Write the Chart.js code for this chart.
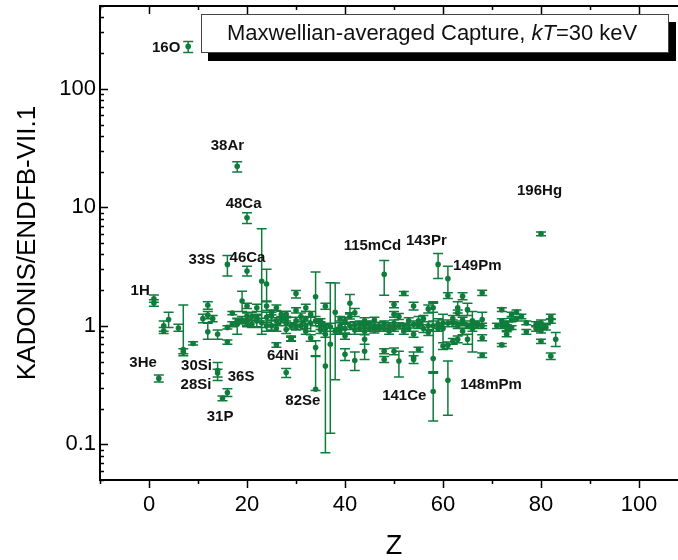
<!DOCTYPE html>
<html>
<head>
<meta charset="utf-8">
<title>KADONIS / ENDF/B-VII.1 MACS ratio</title>
<script src="https://cdn.jsdelivr.net/npm/chart.js@4.4.0/dist/chart.umd.min.js"></script>
<style>
  html, body { margin: 0; padding: 0; background: #fff; overflow: hidden; }
  #wrap { width: 720px; height: 560px; }
</style>
</head>
<body>
<div id="wrap"><canvas id="chart" width="720" height="560"></canvas></div>
<script>
// charge number Z of each nuclide
const zVals = [
  1, 1, 2, 3, 3, 4, 6, 7, 7, 8, 9,
  11, 12, 12, 12, 13, 14, 14, 14, 15, 16, 16, 16, 16,
  17, 17, 18, 18, 18, 19, 19, 19, 20, 20, 20, 20, 20, 20,
  21, 21, 22, 22, 22, 23, 23, 24, 24, 24, 24, 25, 25, 25,
  26, 26, 26, 26, 27, 27, 28, 28, 28, 28, 28, 29, 29, 29,
  30, 30, 30, 30, 31, 31, 32, 32, 32, 32, 33, 33, 33, 34, 34, 34, 34,
  35, 35, 35, 36, 36, 36, 36, 37, 37, 38, 38, 39, 39, 39,
  40, 40, 40, 40, 41, 41, 41, 42, 42, 42, 42, 43, 43, 44, 44, 44, 44, 44,
  45, 45, 46, 46, 46, 47, 47, 48, 48, 48, 48, 48, 49, 49,
  50, 50, 50, 50, 50, 51, 51, 51, 52, 52, 52, 53, 53, 54, 54, 54, 54, 54,
  55, 55, 55, 56, 56, 57, 57, 57, 58, 58, 58, 58, 59, 59, 59,
  60, 60, 60, 61, 61, 61, 61, 61, 62, 62, 62, 63, 63, 63, 63, 64, 64, 64, 64,
  65, 65, 65, 66, 66, 66, 67, 67, 68, 68, 68, 68, 68, 71,
  72, 72, 72, 72, 73, 73, 73, 74, 74, 74, 75, 75, 76, 77, 77,
  79, 79, 80, 80, 80, 80, 80, 81, 82, 82, 82, 83
];

// KADONIS / ENDF/B-VII.1 ratio
const ratio = [
  1.69, 1.56, 0.36, 1.0, 0.91, 1.13, 0.96, 0.63, 0.60, 228, 0.71,
  1.15, 1.49, 1.23, 0.89, 1.15, 0.42, 0.40, 0.85, 0.245, 3.3, 0.274, 0.73, 0.97,
  1.28, 1.03, 22.2, 1.03, 1.1, 1.62, 1.12, 1.08, 8.15, 2.9, 1.47, 1.21, 1.1, 1.05,
  1.03, 1.2, 1.42, 1.1, 1.17, 2.38, 1.06, 2.25, 1.47, 1.0, 1.18, 1.21, 1.0, 1.3,
  0.69, 1.42, 1.1, 0.95, 1.13, 1.25, 0.403, 0.93, 1.25, 1.13, 1.05, 0.77, 0.79, 1.0,
  1.87, 1.35, 1.1, 0.97, 1.0, 1.2, 1.42, 1.0, 0.9, 1.15, 0.79, 1.05, 1.25, 1.76, 1.1, 0.655, 0.292,
  1.0, 0.92, 1.1, 0.458, 1.46, 0.95, 0.85, 0.70, 0.98, 1.3, 0.9, 1.0, 0.92, 1.15,
  0.575, 0.95, 1.1, 0.82, 1.55, 1.0, 1.2, 1.29, 0.51, 0.92, 1.02, 0.95, 1.05, 0.77, 0.61, 0.9, 1.0, 1.1,
  0.95, 1.05, 1.0, 0.92, 1.12, 0.95, 1.0, 2.72, 0.61, 0.52, 0.95, 1.05, 1.0, 0.9,
  1.51, 1.25, 0.61, 0.95, 1.05, 0.505, 1.0, 1.2, 1.88, 1.0, 0.9, 1.1, 0.95, 1.47, 1.03, 0.54, 0.52, 0.85,
  0.63, 1.1, 1.0, 0.95, 1.15, 1.39, 1.0, 0.88, 0.53, 0.279, 1.42, 1.0, 3.3, 1.04, 0.95,
  0.675, 1.05, 0.95, 2.5, 1.8, 0.685, 0.347, 1.05, 1.05, 0.74, 1.15, 1.42, 1.29, 0.77, 1.0, 1.78, 0.9, 1.05, 1.12,
  1.37, 0.77, 1.0, 1.03, 0.95, 1.1, 1.0, 1.05, 1.9, 1.13, 0.79, 0.565, 1.0, 1.0,
  1.37, 1.1, 0.69, 1.0, 0.965, 0.85, 1.05, 1.25, 0.965, 1.12, 1.31, 1.15, 1.2, 1.06, 0.89,
  1.03, 0.95, 5.98, 1.06, 0.915, 0.74, 1.0, 0.97, 1.19, 1.1, 0.555, 0.77
];

// lower end of each error bar
const errLow = [
  1.58, 1.46, 0.336, 0.9, 0.86, 0.97, 0.9, 0.58, 0.56, 203, 0.69,
  1.06, 1.38, 1.15, 0.77, 1.08, 0.37, 0.345, 0.77, 0.233, 2.63, 0.253, 0.70, 0.94,
  1.24, 0.98, 19.9, 0.85, 1.05, 1.32, 1.05, 1.04, 7.3, 2.63, 1.4, 1.14, 1.0, 0.98,
  0.97, 1.1, 1.32, 0.98, 1.12, 0.85, 0.97, 1.62, 1.35, 0.9, 1.06, 1.12, 0.92, 1.24,
  0.66, 1.35, 1.03, 0.9, 1.06, 1.17, 0.366, 0.86, 1.17, 1.06, 1.0, 0.74, 0.75, 0.94,
  1.72, 1.28, 1.02, 0.92, 0.93, 1.12, 1.33, 0.95, 0.85, 1.1, 0.74, 0.9, 1.18, 1.2, 1.0, 0.56, 0.285,
  0.93, 0.86, 1.05, 0.085, 1.38, 0.9, 0.8, 0.124, 0.9, 0.35, 0.85, 0.94, 0.87, 1.1,
  0.51, 0.85, 1.03, 0.77, 1.29, 0.93, 1.14, 1.2, 0.42, 0.85, 0.96, 0.9, 1.0, 0.7, 0.52, 0.84, 0.95, 1.03,
  0.9, 1.0, 0.95, 0.87, 1.06, 0.9, 0.94, 1.81, 0.58, 0.49, 0.9, 1.0, 0.94, 0.85,
  1.42, 1.18, 0.57, 0.9, 0.98, 0.37, 0.94, 1.13, 1.8, 0.95, 0.85, 1.03, 0.9, 1.36, 0.96, 0.48, 0.48, 0.8,
  0.6, 1.0, 0.95, 0.88, 1.08, 1.28, 0.92, 0.83, 0.41, 0.157, 1.3, 0.9, 2.51, 0.95, 0.9,
  0.63, 0.98, 0.72, 1.9, 1.7, 0.64, 0.176, 0.98, 0.98, 0.7, 1.08, 1.28, 1.22, 0.72, 0.95, 1.66, 0.84, 1.0, 1.06,
  1.22, 0.7, 0.95, 0.96, 0.9, 0.6, 0.95, 1.0, 1.8, 1.0, 0.75, 0.54, 0.95, 0.95,
  1.32, 1.05, 0.67, 0.95, 0.91, 0.81, 1.0, 1.2, 0.93, 1.08, 1.26, 1.1, 1.15, 1.02, 0.85,
  0.98, 0.9, 5.75, 1.0, 0.87, 0.71, 0.95, 0.92, 1.13, 1.05, 0.52, 0.67
];

// upper end of each error bar
const errHigh = [
  1.82, 1.66, 0.385, 1.1, 0.97, 1.3, 1.03, 1.5, 0.64, 251, 0.735,
  1.25, 1.6, 1.32, 1.05, 1.22, 0.49, 0.43, 0.92, 0.256, 3.93, 0.295, 0.76, 1.0,
  1.32, 1.08, 24.2, 1.16, 1.15, 1.96, 1.2, 1.12, 9.0, 3.19, 1.55, 1.28, 1.2, 1.12,
  1.1, 1.3, 1.52, 1.25, 1.22, 6.6, 1.16, 3.0, 1.6, 1.1, 1.3, 1.3, 1.1, 1.36,
  0.72, 1.5, 1.17, 1.0, 1.2, 1.33, 0.436, 1.0, 1.33, 1.2, 1.1, 0.8, 0.82, 1.06,
  1.99, 1.42, 1.18, 1.03, 1.08, 1.28, 1.52, 1.05, 0.95, 1.2, 0.84, 1.2, 1.32, 2.85, 1.2, 0.75, 0.55,
  1.08, 0.98, 1.15, 1.03, 1.55, 1.0, 0.9, 2.31, 1.05, 2.3, 0.95, 1.06, 0.97, 1.2,
  0.64, 1.05, 1.18, 0.87, 1.84, 1.07, 1.26, 1.4, 0.6, 1.0, 1.08, 1.0, 1.1, 0.85, 0.7, 0.96, 1.06, 1.17,
  1.0, 1.1, 1.06, 0.97, 1.18, 1.0, 1.07, 3.56, 0.64, 0.55, 1.0, 1.1, 1.06, 0.95,
  1.6, 1.32, 0.65, 1.0, 1.12, 0.61, 1.06, 1.27, 1.95, 1.05, 0.95, 1.17, 1.0, 1.58, 1.1, 0.6, 0.56, 0.9,
  0.66, 1.2, 1.05, 1.02, 1.22, 1.5, 1.08, 0.93, 1.6, 0.398, 1.55, 1.1, 4.08, 1.15, 1.0,
  0.72, 1.12, 1.25, 3.19, 1.9, 0.73, 0.505, 1.12, 1.12, 0.78, 1.22, 1.6, 1.36, 0.82, 1.05, 1.9, 0.96, 1.1, 1.18,
  1.55, 0.85, 1.05, 1.1, 1.0, 1.32, 1.05, 1.1, 2.0, 1.3, 0.84, 0.59, 1.05, 1.05,
  1.42, 1.15, 0.71, 1.05, 1.02, 0.89, 1.1, 1.3, 1.0, 1.16, 1.36, 1.2, 1.25, 1.1, 0.93,
  1.08, 1.0, 6.2, 1.12, 0.96, 0.77, 1.05, 1.02, 1.25, 1.15, 0.59, 0.88
];

// nuclide labels, anchored (centre) at data coordinates
const labelText = ['16O', '38Ar', '48Ca', '33S', '46Ca', '115mCd', '143Pr', '149Pm', '196Hg',
  '1H', '3He', '30Si', '28Si', '36S', '31P', '64Ni', '82Se', '141Ce', '148mPm'];
const labelZ = [3.5, 16.0, 19.3, 10.8, 20.1, 45.6, 56.6, 67.0, 79.7,
  -1.8, -1.2, 9.7, 9.6, 18.8, 14.5, 27.3, 31.4, 52.1, 69.8];
const labelY = [220, 33.2, 10.7, 3.63, 3.78, 4.77, 5.25, 3.23, 13.9,
  1.99, 0.483, 0.456, 0.315, 0.368, 0.169, 0.553, 0.231, 0.255, 0.315];

const xTicks = [0, 20, 40, 60, 80, 100];
const yTicks = [0.1, 1, 10, 100];

const GREEN = '#107c3c';
const FONT = '"Liberation Sans", Arial, sans-serif';

// ERROR BARS
const errorBars = {
  id: 'errorBars',
  beforeDatasetsDraw(chart) {
    const { ctx, chartArea: a, scales: { x, y } } = chart;
    ctx.save();
    ctx.beginPath();
    ctx.rect(a.left, a.top, a.right - a.left, a.bottom - a.top);
    ctx.clip();
    ctx.strokeStyle = GREEN;
    ctx.lineWidth = 1.5;
    ctx.beginPath();
    zVals.forEach((z, i) => {
      const px = x.getPixelForValue(z);
      const top = y.getPixelForValue(errHigh[i]);
      const bot = y.getPixelForValue(errLow[i]);
      ctx.moveTo(px, top); ctx.lineTo(px, bot);
      ctx.moveTo(px - 5, top); ctx.lineTo(px + 5, top);
      ctx.moveTo(px - 5, bot); ctx.lineTo(px + 5, bot);
    });
    ctx.stroke();
    ctx.restore();
  }
};

// FRAME + TICKS (major/minor, all four sides)
const frame = {
  id: 'frame',
  afterDraw(chart) {
    const { ctx, chartArea: a, scales: { x, y } } = chart;
    ctx.save();
    ctx.strokeStyle = '#000';
    ctx.lineWidth = 2;
    ctx.strokeRect(a.left, a.top, a.right - a.left, a.bottom - a.top);

    ctx.lineWidth = 1.5;
    ctx.beginPath();
    // x: majors every 20, minors in between
    for (let v = x.min; v <= x.max; v += 10) {
      const px = Math.round(x.getPixelForValue(v)) + 0.5;
      const len = xTicks.includes(v) ? 8 : 4;
      ctx.moveTo(px, a.bottom); ctx.lineTo(px, a.bottom + len);
      ctx.moveTo(px, a.top); ctx.lineTo(px, a.top + len);
    }
    // y: log decades with 2..9 minors
    for (let d = -2; d <= 2; d++) {
      for (let m = 1; m <= 9; m++) {
        const v = m * Math.pow(10, d);
        if (v < y.min || v > y.max) continue;
        const py = Math.round(y.getPixelForValue(v)) + 0.5;
        const len = m === 1 ? 8 : 4;
        ctx.moveTo(a.left, py); ctx.lineTo(a.left + len, py);
        ctx.moveTo(a.right, py); ctx.lineTo(a.right - len, py);
      }
    }
    ctx.stroke();
    ctx.restore();
  }
};

// NUCLIDE LABELS
const nuclideLabels = {
  id: 'nuclideLabels',
  afterDatasetsDraw(chart) {
    const { ctx, scales: { x, y } } = chart;
    ctx.save();
    ctx.font = 'bold 15px ' + FONT;
    ctx.fillStyle = '#111';
    ctx.textAlign = 'center';
    ctx.textBaseline = 'middle';
    labelText.forEach((t, i) => {
      ctx.fillText(t, x.getPixelForValue(labelZ[i]), y.getPixelForValue(labelY[i]));
    });
    ctx.restore();
  }
};

// LEGEND BOX WITH SHADOW
const legendBox = {
  id: 'legendBox',
  afterDraw(chart) {
    const ctx = chart.ctx;
    const bx = 201, by = 14, bw = 468, bh = 39;
    ctx.save();
    ctx.fillStyle = '#000';
    ctx.fillRect(bx + 7, by + 8, bw, bh);
    ctx.fillStyle = '#fff';
    ctx.fillRect(bx, by, bw, bh);
    ctx.strokeStyle = '#444';
    ctx.lineWidth = 1;
    ctx.strokeRect(bx + 0.5, by + 0.5, bw - 1, bh - 1);

    ctx.fillStyle = '#111';
    ctx.textBaseline = 'middle';
    const parts = [
      ['Maxwellian-averaged Capture, ', ''],
      ['kT', 'italic '],
      ['=30 keV', '']
    ];
    let tx = 227;
    parts.forEach(([s, style]) => {
      ctx.font = style + '22px ' + FONT;
      ctx.fillText(s, tx, by + 20);
      tx += ctx.measureText(s).width;
    });
    ctx.restore();
  }
};

const ctx = document.getElementById('chart').getContext('2d');
new Chart(ctx, {
  type: 'scatter',
  data: {
    datasets: [{
      data: zVals.map((z, i) => ({ x: z, y: ratio[i] })),
      pointRadius: 2.8,
      pointBackgroundColor: GREEN,
      pointBorderWidth: 0,
      showLine: false
    }]
  },
  options: {
    responsive: false,
    animation: false,
    layout: { padding: { top: 6, right: 32, left: 0, bottom: 0 } },
    plugins: {
      legend: { display: false },
      tooltip: { enabled: false }
    },
    scales: {
      x: {
        type: 'linear',
        min: -10,
        max: 110,
        grid: { display: false, drawTicks: false },
        border: { display: false },
        afterBuildTicks: s => { s.ticks = xTicks.map(v => ({ value: v })); },
        afterFit: s => { s.height = 80; s.paddingLeft = 0; s.paddingRight = 0; },
        ticks: { color: '#000', font: { family: FONT, size: 22 }, padding: 12, maxRotation: 0, autoSkip: false },
        title: {
          display: true, text: 'Z', color: '#000',
          font: { family: FONT, size: 27, lineHeight: 1 },
          padding: { top: 0, bottom: 0 }
        }
      },
      y: {
        type: 'logarithmic',
        min: 0.05,
        max: 500,
        grid: { display: false, drawTicks: false },
        border: { display: false },
        afterBuildTicks: s => { s.ticks = yTicks.map(v => ({ value: v })); },
        afterFit: s => { s.width = 100; s.paddingTop = 0; s.paddingBottom = 0; },
        ticks: { color: '#000', font: { family: FONT, size: 22 }, padding: 4, autoSkip: false,
                 callback: v => String(v) },
        title: {
          display: true, text: 'KADONIS/ENDFB-VII.1', color: '#000',
          font: { family: FONT, size: 26 },
          padding: { top: 12, bottom: 0 }
        }
      }
    }
  },
  plugins: [errorBars, nuclideLabels, frame, legendBox]
});
</script>
</body>
</html>
